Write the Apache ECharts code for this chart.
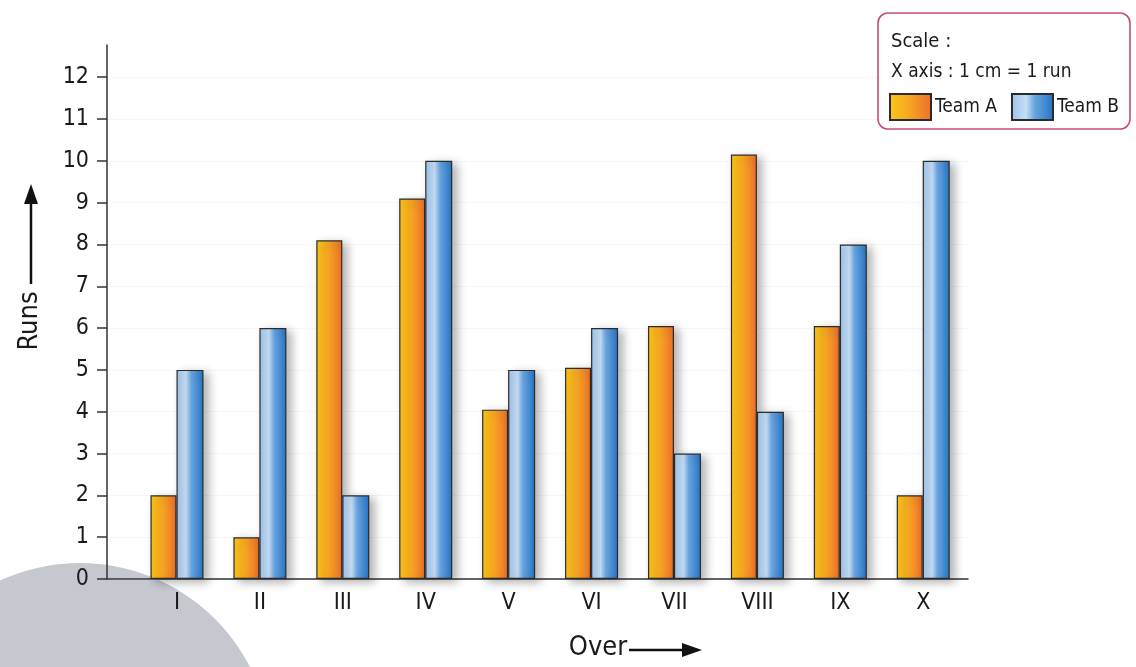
<!DOCTYPE html>
<html>
<head>
<meta charset="utf-8">
<title>Runs per over</title>
<script src="https://cdn.jsdelivr.net/npm/echarts@6/dist/echarts.min.js"></script>
<style>
  html, body { margin: 0; padding: 0; background: #ffffff; }
  #chart { width: 1136px; height: 667px; }
</style>
</head>
<body>
<div id="chart"></div>
<script>
// Overs and runs scored in each over
const overs = ['I', 'II', 'III', 'IV', 'V', 'VI', 'VII', 'VIII', 'IX', 'X'];
const teamA = [2, 1, 8.1, 9.1, 4.05, 5.05, 6.05, 10.15, 6.05, 2];
const teamB = [5, 6, 2, 10, 5, 6, 3, 4, 8, 10];
const runTicks = [0, 1, 2, 3, 4, 5, 6, 7, 8, 9, 10, 11, 12];

const FONT = "'Liberation Sans Narrow', 'DejaVu Sans Condensed', 'Roboto Condensed', sans-serif";

const overPositions = overs.map((_, i) => i + 1);
const toPoints = (vals) => vals.map((v, i) => [overPositions[i], v]);

const orangeFill = {
  type: 'linear', x: 0, y: 0, x2: 1, y2: 0,
  colorStops: [
    { offset: 0, color: '#fdc614' },
    { offset: 0.45, color: '#f7a822' },
    { offset: 1, color: '#ec6e2c' }
  ]
};
const blueFill = {
  type: 'linear', x: 0, y: 0, x2: 1, y2: 0,
  colorStops: [
    { offset: 0, color: '#9cc3ec' },
    { offset: 0.35, color: '#c6def5' },
    { offset: 0.55, color: '#68a4df' },
    { offset: 1, color: '#2574c4' }
  ]
};

const barStyle = {
  borderColor: '#2b2b2b',
  borderWidth: 1.2,
  shadowColor: 'rgba(0,0,0,0.3)',
  shadowBlur: 10,
  shadowOffsetX: 5,
  shadowOffsetY: 3
};

const chart = echarts.init(document.getElementById('chart'));

chart.setOption({
  backgroundColor: '#ffffff',
  animation: false,
  textStyle: { fontFamily: FONT },
  grid: { left: 107, right: 168, top: 45, bottom: 88 },
  xAxis: {
    type: 'value',
    min: 0.156,
    max: 10.54,
    axisLine: { show: true, onZero: false, lineStyle: { color: '#333', width: 1.5 } },
    axisTick: { show: false },
    splitLine: { show: false },
    axisLabel: {
      customValues: overPositions,
      formatter: (v) => overs[Math.round(v) - 1] || '',
      fontFamily: FONT,
      fontSize: 23,
      color: '#1a1a1a',
      margin: 13
    }
  },
  yAxis: {
    type: 'value',
    min: 0,
    max: 12.77,
    interval: 1,
    axisLine: { show: true, onZero: false, lineStyle: { color: '#333', width: 1.5 } },
    axisTick: {
      show: true,
      customValues: runTicks,
      length: 10,
      lineStyle: { color: '#333', width: 1.5 }
    },
    axisLabel: {
      customValues: runTicks,
      fontFamily: FONT,
      fontSize: 23,
      color: '#1a1a1a',
      margin: 18
    },
    splitLine: { show: true, lineStyle: { color: '#f6f6f6', width: 1 } }
  },
  legend: {
    data: ['Team A', 'Team B'],
    left: 889,
    top: 93,
    padding: 0,
    itemWidth: 41,
    itemHeight: 26,
    itemGap: 14,
    icon: 'rect',
    textStyle: { fontFamily: FONT, fontSize: 19, color: '#1a1a1a', padding: [0, 0, 0, -1] },
    selectedMode: false,
    z: 20
  },
  series: [
    {
      name: 'Team A',
      type: 'bar',
      data: toPoints(teamA),
      barWidth: 26,
      barGap: '0%',
      itemStyle: Object.assign({ color: orangeFill }, barStyle)
    },
    {
      name: 'Team B',
      type: 'bar',
      data: toPoints(teamB),
      barWidth: 27,
      barGap: '0%',
      itemStyle: Object.assign({ color: blueFill }, barStyle)
    }
  ],
  graphic: [
    // grey disc in the lower left corner
    {
      type: 'circle',
      shape: { cx: 80, cy: 754, r: 191 },
      style: { fill: '#c5c8ce' },
      z: -10,
      silent: true
    },
    // key box
    {
      type: 'rect',
      shape: { x: 878, y: 13, width: 252, height: 116, r: 10 },
      style: { fill: '#ffffff', stroke: '#c5516f', lineWidth: 1.6 },
      z: 10
    },
    {
      type: 'text',
      x: 891, y: 42,
      style: { text: 'Scale :', font: '20px ' + FONT, fill: '#1a1a1a', textVerticalAlign: 'middle' },
      z: 11
    },
    {
      type: 'text',
      x: 891, y: 72,
      style: { text: 'X axis : 1 cm = 1 run', font: '19px ' + FONT, fill: '#1a1a1a', textVerticalAlign: 'middle' },
      z: 11
    },
    // vertical axis title with arrow
    {
      type: 'text',
      x: 30, y: 321,
      rotation: Math.PI / 2,
      style: { text: 'Runs', font: '27px ' + FONT, fill: '#1a1a1a', textAlign: 'center', textVerticalAlign: 'middle' },
      z: 11
    },
    {
      type: 'line',
      shape: { x1: 31, y1: 284, x2: 31, y2: 200 },
      style: { stroke: '#111', lineWidth: 2.5 },
      z: 11
    },
    {
      type: 'polygon',
      shape: { points: [[31, 184], [24, 204], [38, 204]] },
      style: { fill: '#111' },
      z: 11
    },
    // horizontal axis title with arrow
    {
      type: 'text',
      x: 598, y: 648,
      style: { text: 'Over', font: '27px ' + FONT, fill: '#1a1a1a', textAlign: 'center', textVerticalAlign: 'middle' },
      z: 11
    },
    {
      type: 'line',
      shape: { x1: 629, y1: 650, x2: 684, y2: 650 },
      style: { stroke: '#111', lineWidth: 2.5 },
      z: 11
    },
    {
      type: 'polygon',
      shape: { points: [[702, 650], [682, 643], [682, 657]] },
      style: { fill: '#111' },
      z: 11
    }
  ]
});
</script>
</body>
</html>
